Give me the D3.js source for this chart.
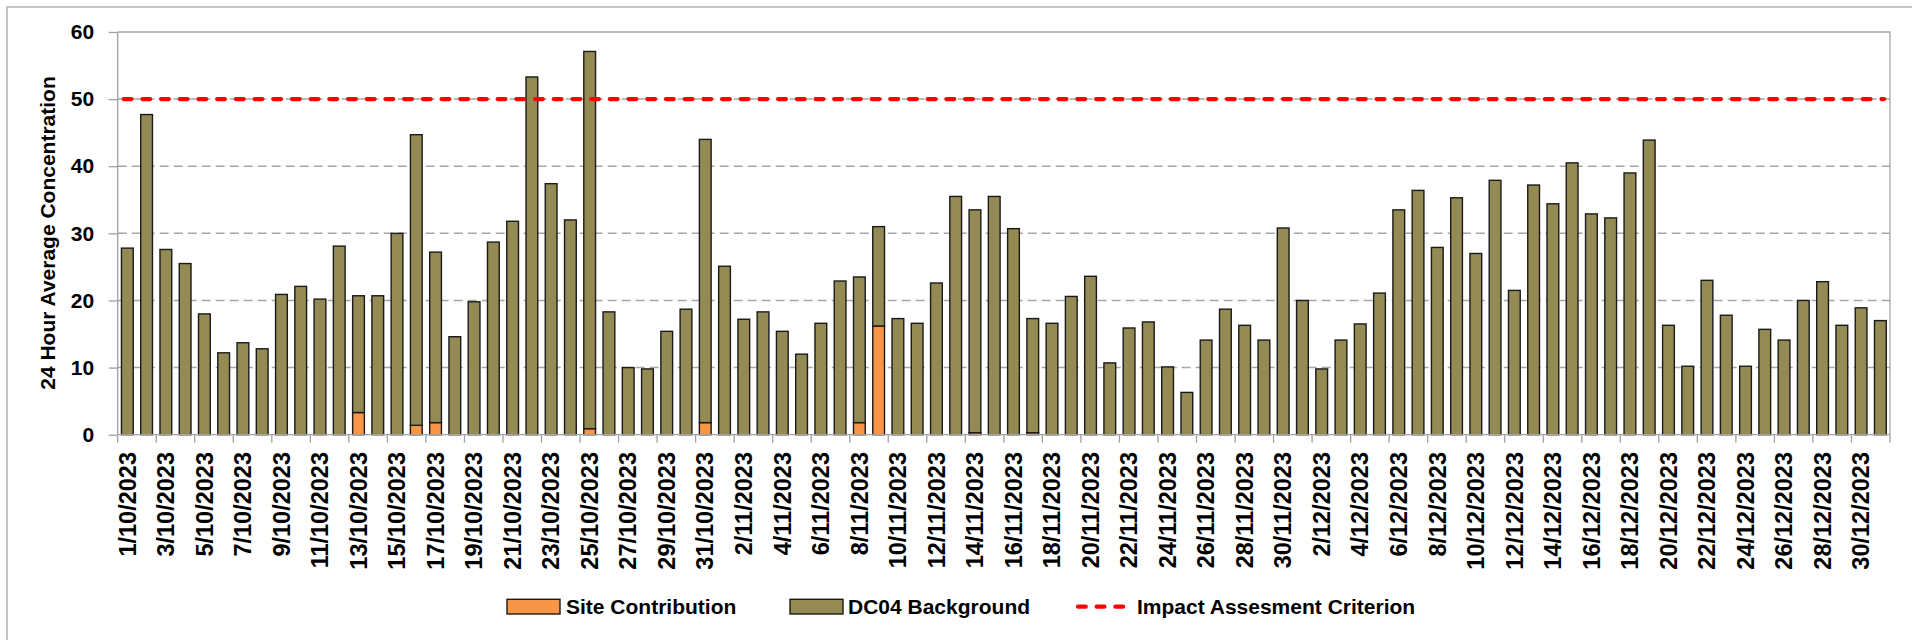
<!DOCTYPE html>
<html>
<head>
<meta charset="utf-8">
<script src="https://cdn.jsdelivr.net/npm/d3@7"></script>
<style>
  body { margin: 0; background: #fff; }
  text { font-family: "Liberation Sans", Arial, sans-serif; font-weight: bold; fill: #000; }
</style>
</head>
<body>
<div class="canva"></div>
<script>
//dates (one bar per day)
const dates = [
  "1/10/2023","2/10/2023","3/10/2023","4/10/2023","5/10/2023","6/10/2023","7/10/2023","8/10/2023",
  "9/10/2023","10/10/2023","11/10/2023","12/10/2023","13/10/2023","14/10/2023","15/10/2023","16/10/2023",
  "17/10/2023","18/10/2023","19/10/2023","20/10/2023","21/10/2023","22/10/2023","23/10/2023","24/10/2023",
  "25/10/2023","26/10/2023","27/10/2023","28/10/2023","29/10/2023","30/10/2023","31/10/2023",
  "1/11/2023","2/11/2023","3/11/2023","4/11/2023","5/11/2023","6/11/2023","7/11/2023","8/11/2023",
  "9/11/2023","10/11/2023","11/11/2023","12/11/2023","13/11/2023","14/11/2023","15/11/2023","16/11/2023",
  "17/11/2023","18/11/2023","19/11/2023","20/11/2023","21/11/2023","22/11/2023","23/11/2023","24/11/2023",
  "25/11/2023","26/11/2023","27/11/2023","28/11/2023","29/11/2023","30/11/2023",
  "1/12/2023","2/12/2023","3/12/2023","4/12/2023","5/12/2023","6/12/2023","7/12/2023","8/12/2023",
  "9/12/2023","10/12/2023","11/12/2023","12/12/2023","13/12/2023","14/12/2023","15/12/2023","16/12/2023",
  "17/12/2023","18/12/2023","19/12/2023","20/12/2023","21/12/2023","22/12/2023","23/12/2023","24/12/2023",
  "25/12/2023","26/12/2023","27/12/2023","28/12/2023","29/12/2023","30/12/2023","31/12/2023"
];

//site contribution (orange, bottom of stack)
const siteContribution = [
  0,0,0,0,0,0,0,0, 0,0,0,0,3.3,0,0,1.4, 1.8,0,0,0,0,0,0,0, 0.9,0,0,0,0,0,1.8,
  0,0,0,0,0,0,0,1.8, 16.2,0,0,0,0,0.3,0,0, 0.3,0,0,0,0,0,0,0, 0,0,0,0,0,0,
  0,0,0,0,0,0,0,0, 0,0,0,0,0,0,0,0, 0,0,0,0,0,0,0,0, 0,0,0,0,0,0,0
];

//DC04 background (olive, stacked on top)
const background = [
  27.8,47.7,27.6,25.5,18.0,12.2,13.7,12.8, 20.9,22.1,20.2,28.1,17.4,20.7,30.0,43.3,
  25.4,14.6,19.8,28.7,31.8,53.3,37.4,32.0, 56.2,18.3,10.0,9.8,15.4,18.7,42.2,
  25.1,17.2,18.3,15.4,12.0,16.6,22.9,21.7, 14.8,17.3,16.6,22.6,35.5,33.2,35.5,30.7,
  17.0,16.6,20.6,23.6,10.7,15.9,16.8,10.1, 6.3,14.1,18.7,16.3,14.1,30.8,
  20.0,9.8,14.1,16.5,21.1,33.5,36.4,27.9, 35.3,27.0,37.9,21.5,37.2,34.4,40.5,32.9,
  32.3,39.0,43.9,16.3,10.2,23.0,17.8,10.2, 15.7,14.1,20.0,22.8,16.3,18.9,17.0
];

//impact assessment criterion
const criterion = 50;
const yTicks = [0, 10, 20, 30, 40, 50, 60];

const seriesNames = ["Site Contribution", "DC04 Background", "Impact Assesment Criterion"];
const colors = { site: "#f79646", background: "#948a54", line: "#ff0000" };

const width = 1912, height = 640;
const plot = { left: 117.7, right: 1890, top: 32, bottom: 434.7 };

const svg = d3.select(".canva").append("svg")
            .attr("width", width)
            .attr("height", height);

//outer chart border
svg.append("rect")
   .attr("x", 7).attr("y", 7)
   .attr("width", 1940).attr("height", 660)
   .attr("fill", "#fff")
   .attr("stroke", "#a6a6a6")
   .attr("stroke-width", 1.3);

//scales
const x = d3.scaleBand()
            .domain(dates)
            .range([plot.left, plot.right])
            .paddingInner(0.39)
            .paddingOuter(0.195);

const y = d3.scaleLinear()
            .domain([0, 60])
            .range([plot.bottom, plot.top]);

//gridlines (60 is the plot border, drawn solid)
svg.append("g")
   .selectAll("line")
   .data(yTicks.filter(d => d > 0 && d < 60))
   .enter().append("line")
   .attr("x1", plot.left).attr("x2", plot.right)
   .attr("y1", d => y(d)).attr("y2", d => y(d))
   .attr("stroke", "#a6a6a6")
   .attr("stroke-width", 1.5)
   .attr("stroke-dasharray", "9,5");

svg.append("path")
   .attr("d", `M${plot.left},${plot.top}H${plot.right}V${plot.bottom}`)
   .attr("fill", "none")
   .attr("stroke", "#a6a6a6")
   .attr("stroke-width", 1.3);

//stack the two series
const table = dates.map((d, i) => ({ date: d, site: siteContribution[i], background: background[i] }));
const stacked = d3.stack().keys(["site", "background"])(table);

svg.append("g")
   .selectAll("g")
   .data(stacked)
   .enter().append("g")
   .attr("fill", s => colors[s.key])
   .selectAll("rect")
   .data(s => s.filter(d => d[1] - d[0] > 0))
   .enter().append("rect")
   .attr("x", d => x(d.data.date))
   .attr("width", x.bandwidth())
   .attr("y", d => y(d[1]))
   .attr("height", d => y(d[0]) - y(d[1]))
   .attr("stroke", "#1a1a1a")
   .attr("stroke-width", 1.4);

//y axis
const yAxis = svg.append("g")
   .attr("transform", `translate(${plot.left},0)`)
   .call(d3.axisLeft(y).tickValues(yTicks).tickSize(9).tickPadding(14.5));
yAxis.selectAll("line, path").attr("stroke", "#a0a0a0").attr("stroke-width", 1.3);
yAxis.select(".domain").attr("d", `M0,${plot.bottom}V${plot.top}`);
yAxis.selectAll("text")
   .attr("font-size", 21)
   .attr("font-family", null)
   .attr("fill", "#000");

//x axis: ticks between every second category, labels on every second date
const xg = svg.append("g");
xg.append("line")
  .attr("x1", plot.left).attr("x2", plot.right)
  .attr("y1", plot.bottom).attr("y2", plot.bottom)
  .attr("stroke", "#a0a0a0").attr("stroke-width", 1.3);

const step = x.step();
xg.selectAll(".tick")
  .data(dates.filter((d, i) => i % 2 === 0).concat(["end"]))
  .enter().append("line")
  .attr("class", "tick")
  .attr("x1", d => d === "end" ? plot.right : x(d) - step * x.paddingOuter())
  .attr("x2", d => d === "end" ? plot.right : x(d) - step * x.paddingOuter())
  .attr("y1", plot.bottom).attr("y2", plot.bottom + 8)
  .attr("stroke", "#a0a0a0").attr("stroke-width", 1.3);

xg.selectAll("text")
  .data(dates.filter((d, i) => i % 2 === 0))
  .enter().append("text")
  .attr("transform", d => `translate(${x(d) + x.bandwidth() / 2},452) rotate(-90)`)
  .attr("dy", "0.35em")
  .attr("text-anchor", "end")
  .attr("font-size", 23.5)
  .text(d => d);

//criterion line
svg.append("line")
   .attr("x1", plot.left + 6).attr("x2", plot.right - 6)
   .attr("y1", y(criterion)).attr("y2", y(criterion))
   .attr("stroke", colors.line)
   .attr("stroke-width", 4.3)
   .attr("stroke-linecap", "round")
   .attr("stroke-dasharray", "7.7,11");

//y axis title
svg.append("text")
   .attr("transform", "translate(55,233) rotate(-90)")
   .attr("text-anchor", "middle")
   .attr("font-size", 21)
   .text("24 Hour Average Concentration");

//legend
const legend = svg.append("g");
legend.append("rect")
   .attr("x", 507).attr("y", 599.3).attr("width", 53).attr("height", 14.7)
   .attr("fill", colors.site).attr("stroke", "#1a1a1a").attr("stroke-width", 1.4);
legend.append("text").attr("x", 566).attr("y", 614.3).attr("font-size", 21).text(seriesNames[0]);

legend.append("rect")
   .attr("x", 790).attr("y", 599.3).attr("width", 53).attr("height", 14.7)
   .attr("fill", colors.background).attr("stroke", "#1a1a1a").attr("stroke-width", 1.4);
legend.append("text").attr("x", 848).attr("y", 614.3).attr("font-size", 21).text(seriesNames[1]);

legend.append("line")
   .attr("x1", 1078).attr("x2", 1125)
   .attr("y1", 606.7).attr("y2", 606.7)
   .attr("stroke", colors.line).attr("stroke-width", 4.3)
   .attr("stroke-linecap", "round")
   .attr("stroke-dasharray", "7.7,11");
legend.append("text").attr("x", 1137).attr("y", 614.3).attr("font-size", 21).text(seriesNames[2]);
</script>
</body>
</html>
